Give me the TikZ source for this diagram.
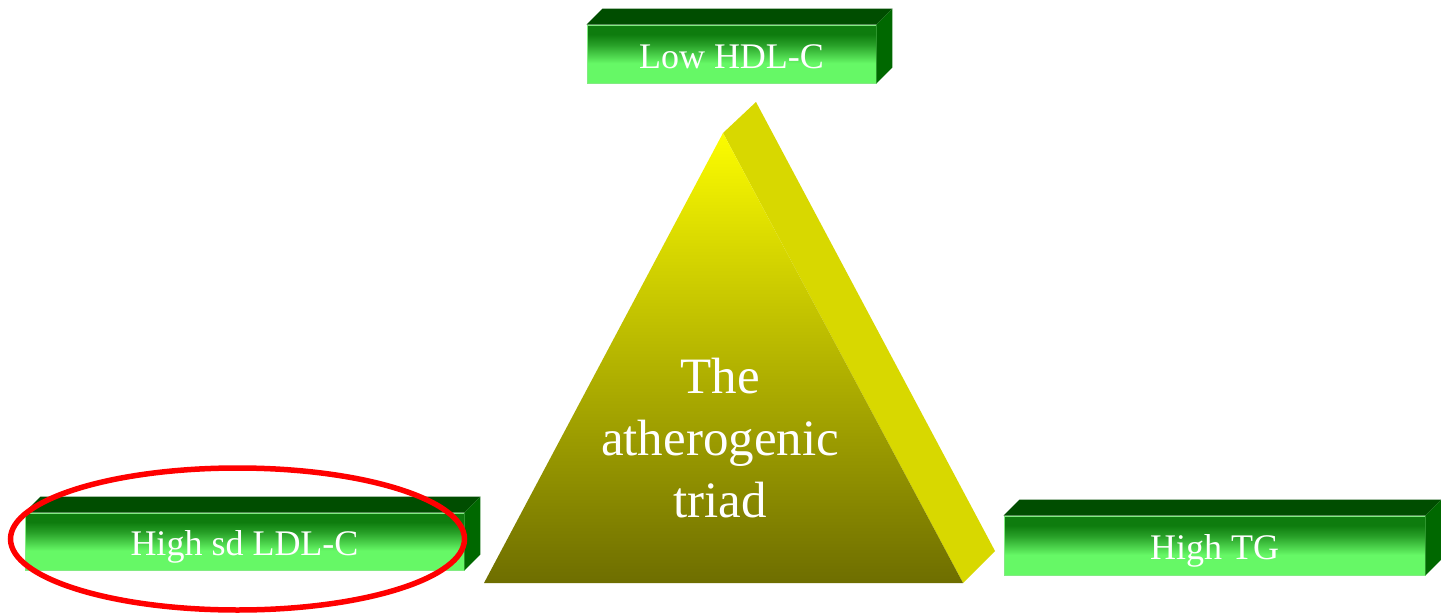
\documentclass[tikz,border=0pt]{standalone}
\usepackage{fontspec}
\setmainfont{Liberation Serif}
\definecolor{lg}{RGB}{102,248,102}
\definecolor{mg}{RGB}{40,160,40}
\definecolor{dg}{RGB}{14,124,14}
\definecolor{topg}{RGB}{0,77,0}
\definecolor{sideg}{RGB}{0,104,0}
\definecolor{edgeg}{RGB}{130,235,130}
\definecolor{ytop}{RGB}{252,252,0}
\definecolor{ymid}{RGB}{195,195,0}
\definecolor{ybot}{RGB}{110,110,0}
\definecolor{yside}{RGB}{216,216,0}
\pgfdeclareverticalshading{frontshade}{100bp}{color(0bp)=(lg); color(25bp)=(lg); color(42bp)=(lg); color(58bp)=(mg); color(67bp)=(dg); color(75bp)=(dg); color(100bp)=(dg)}
\newcommand{\boxtext}[1]{\raisebox{-14pt}[0pt][0pt]{#1}}
\begin{document}
\begin{tikzpicture}[x=1pt,y=-1pt,
  boxfront/.style={draw=edgeg, line width=0.8pt, shading=frontshade, inner sep=0pt,
    text=white, font=\fontsize{36}{40}\selectfont},
  boxtop/.style={fill=topg, draw=none},
  boxside/.style={fill=sideg, draw=none}]
\useasboundingbox (0,0) rectangle (1441,616);

% triangle
\coordinate (ta) at (723,133);
\coordinate (tl) at (484,583);
\coordinate (tr) at (963,583);
\coordinate (tab) at (756,102);
\coordinate (trb) at (995,551);
\fill[yside] (ta) -- (tab) -- (trb) -- (tr) -- cycle;
\shade[top color=ytop, middle color=ymid, bottom color=ybot] (ta) -- (tr) -- (tl) -- cycle;
\node[text=white, align=center, font=\fontsize{51}{62}\selectfont] (triad) at (720,438) {The\\atherogenic\\triad};

% boxes
\node[boxfront, minimum width=289pt, minimum height=58pt] (hdl) at (731.5,54) {\boxtext{Low HDL-C}};
\node[boxfront, minimum width=439pt, minimum height=57pt] (ldl) at (244.5,541.5) {\boxtext{High sd LDL-C}};
\node[boxfront, minimum width=421pt, minimum height=59pt] (tg) at (1214.5,545.5) {\boxtext{High TG}};

\foreach \b in {hdl,ldl,tg}{
  \fill[boxtop] (\b.north west) -- ++(16,-16) -- ([shift={(16,-16)}]\b.north east) -- (\b.north east) -- cycle;
  \fill[boxside] (\b.north east) -- ++(16,-16) -- ([shift={(16,-16)}]\b.south east) -- (\b.south east) -- cycle;
}

% red ellipse
\draw[red, line width=5.5pt] (237.5,539) ellipse [x radius=227, y radius=71];
\end{tikzpicture}
\end{document}
